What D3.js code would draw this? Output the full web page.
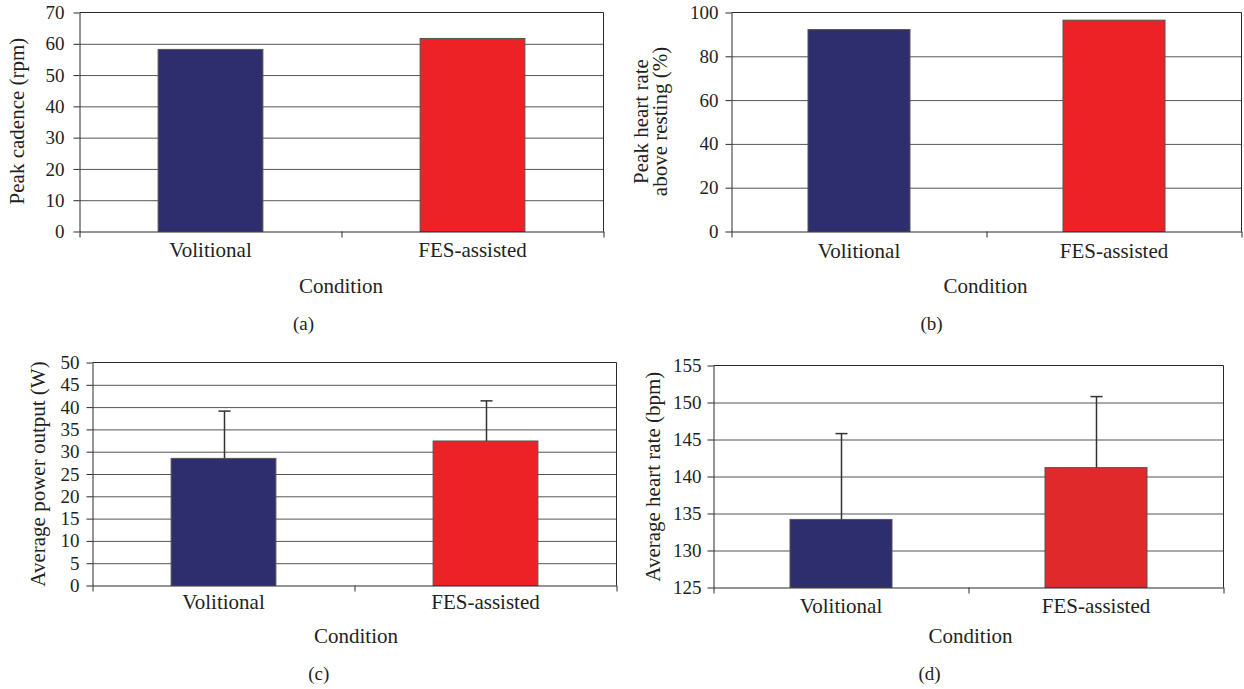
<!DOCTYPE html>
<html>
<head>
<meta charset="utf-8">
<script src="https://cdn.jsdelivr.net/npm/d3@7"></script>
<style>
  html, body { margin: 0; padding: 0; background: #fff; }
  svg { display: block; }
  text { font-family: "Liberation Serif", "Times New Roman", serif; fill: #231f20; }
</style>
</head>
<body>
<svg id="fig" width="1244" height="689"></svg>
<script>
// Cycling test results: volitional vs FES-assisted conditions
const categories = ["Volitional", "FES-assisted"];

const peakCadence = [58.2, 61.7];          // rpm
const peakHeartRateAboveRest = [92.2, 96.5]; // %
const avgPowerOutput = [28.5, 32.4];       // W
const avgPowerOutputSD = [10.6, 9.0];
const avgHeartRate = [134.2, 141.2];       // bpm
const avgHeartRateSD = [11.6, 9.6];

const cadenceTicks = [0, 10, 20, 30, 40, 50, 60, 70];
const heartRatePctTicks = [0, 20, 40, 60, 80, 100];
const powerTicks = [0, 5, 10, 15, 20, 25, 30, 35, 40, 45, 50];
const heartRateTicks = [125, 130, 135, 140, 145, 150, 155];

const xTitle = "Condition";

const svg = d3.select("#fig");

const panels = [
  { values: peakCadence, sd: null, ticks: cadenceTicks,
    title: ["Peak cadence (rpm)"], titleX: [24], titleY: 121,
    box: { left: 79, right: 603, top: 12, bottom: 231 },
    condX: 341, condY: 292.7, caption: "(a)", capX: 303.6, capY: 330,
    tickPad: 9, catDy: 25.5, fills: ["#2e2d6e", "#ed2226"] },
  { values: peakHeartRateAboveRest, sd: null, ticks: heartRatePctTicks,
    title: ["Peak heart rate", "above resting (%)"], titleX: [648, 667], titleY: 121.5,
    box: { left: 731, right: 1241, top: 12, bottom: 231 },
    condX: 985.5, condY: 292.7, caption: "(b)", capX: 931.5, capY: 330,
    tickPad: 7, catDy: 26, fills: ["#2e2d6e", "#ed2226"] },
  { values: avgPowerOutput, sd: avgPowerOutputSD, ticks: powerTicks,
    title: ["Average power output (W)"], titleX: [45], titleY: 474,
    box: { left: 92, right: 616, top: 362, bottom: 585 },
    condX: 356, condY: 643.3, caption: "(c)", capX: 318.7, capY: 680,
    tickPad: 7, catDy: 23.3, fills: ["#2e2d6e", "#ed2226"] },
  { values: avgHeartRate, sd: avgHeartRateSD, ticks: heartRateTicks,
    title: ["Average heart rate (bpm)"], titleX: [660], titleY: 476.7,
    box: { left: 713, right: 1223, top: 365, bottom: 587 },
    condX: 970.5, condY: 643.3, caption: "(d)", capX: 929.5, capY: 680,
    tickPad: 6, catDy: 25.5, fills: ["#2e2d6e", "#e0292b"] }
];

panels.forEach(p => {
  const b = p.box;
  const g = svg.append("g");

  const y = d3.scaleLinear()
    .domain([p.ticks[0], p.ticks[p.ticks.length - 1]])
    .range([b.bottom + 0.5, b.top + 0.5]);

  const x = d3.scaleBand()
    .domain(categories)
    .range([b.left + 0.5, b.right + 0.5])
    .paddingInner(0.6)
    .paddingOuter(0.3);

  // category boundaries for the x tick marks
  const xEdge = d3.scaleLinear().domain([0, categories.length])
    .range([b.left + 0.5, b.right + 0.5]);

  // horizontal gridlines
  g.append("g")
    .attr("transform", `translate(${b.left + 0.5},0)`)
    .call(d3.axisLeft(y).tickValues(p.ticks.slice(1, -1))
      .tickSize(-(b.right - b.left)).tickFormat(""))
    .call(s => s.select(".domain").remove())
    .selectAll("line").attr("stroke", "#555").attr("stroke-width", 1);

  // plot frame: top and right edges
  g.append("path")
    .attr("d", `M${b.left + 0.5},${b.top + 0.5}H${b.right + 0.5}V${b.bottom + 0.5}`)
    .attr("fill", "none").attr("stroke", "#2a2a2a").attr("stroke-width", 1);

  // bars
  g.selectAll("rect.bar").data(categories).join("rect")
    .attr("class", "bar")
    .attr("x", d => x(d))
    .attr("width", x.bandwidth())
    .attr("y", (d, i) => y(p.values[i]))
    .attr("height", (d, i) => y(p.ticks[0]) - y(p.values[i]))
    .attr("fill", (d, i) => p.fills[i])
    .attr("stroke", "#555").attr("stroke-width", 1);

  // upward error bars (mean + SD)
  if (p.sd) {
    const capW = 12;
    categories.forEach((c, i) => {
      const cx = Math.round(x(c) + x.bandwidth() / 2) + 0.5;
      const top = y(p.values[i] + p.sd[i]);
      g.append("line")
        .attr("x1", cx).attr("x2", cx)
        .attr("y1", y(p.values[i])).attr("y2", top)
        .attr("stroke", "#333").attr("stroke-width", 1.5);
      g.append("line")
        .attr("x1", cx - capW / 2).attr("x2", cx + capW / 2)
        .attr("y1", top).attr("y2", top)
        .attr("stroke", "#333").attr("stroke-width", 1.5);
    });
  }

  // y axis
  const yAx = g.append("g")
    .attr("transform", `translate(${b.left + 0.5},0)`)
    .call(d3.axisLeft(y).tickValues(p.ticks).tickSize(6).tickSizeOuter(0)
      .tickPadding(p.tickPad).tickFormat(d3.format("d")));
  yAx.select(".domain").attr("stroke", "#2a2a2a");
  yAx.selectAll("line").attr("stroke", "#2a2a2a");
  yAx.selectAll("text").style("font-size", "19px")
    .style("font-family", '"Liberation Serif", serif').attr("fill", "#231f20");

  // x axis: boundary ticks
  const xAx = g.append("g")
    .attr("transform", `translate(0,${b.bottom + 0.5})`)
    .call(d3.axisBottom(xEdge).tickValues(d3.range(categories.length + 1))
      .tickSize(6).tickSizeOuter(0).tickFormat(""));
  xAx.select(".domain").attr("stroke", "#2a2a2a");
  xAx.selectAll("line").attr("stroke", "#2a2a2a");

  // x axis: category labels
  const xLab = g.append("g")
    .attr("transform", `translate(0,${b.bottom + 0.5})`)
    .call(d3.axisBottom(x).tickSize(0).tickPadding(0));
  xLab.select(".domain").remove();
  xLab.selectAll("text")
    .attr("y", p.catDy).attr("dy", null)
    .style("font-size", "21px")
    .style("font-family", '"Liberation Serif", serif').attr("fill", "#231f20");

  // x axis title
  g.append("text")
    .attr("x", p.condX).attr("y", p.condY)
    .attr("text-anchor", "middle")
    .style("font-size", "21px")
    .text(xTitle);

  // y axis title (one or two lines)
  p.title.forEach((t, i) => {
    g.append("text")
      .attr("transform", `translate(${p.titleX[i]},${p.titleY}) rotate(-90)`)
      .attr("text-anchor", "middle")
      .style("font-size", "21px")
      .text(t);
  });

  // panel caption
  g.append("text")
    .attr("x", p.capX).attr("y", p.capY)
    .attr("text-anchor", "middle")
    .style("font-size", "19px")
    .text(p.caption);
});
</script>
</body>
</html>
